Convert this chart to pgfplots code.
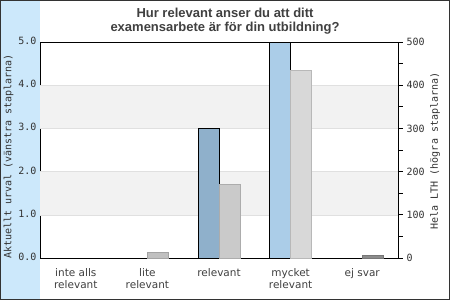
\documentclass[border=0pt]{standalone}
\usepackage{fontspec}
\usepackage{pgfplots}
\pgfplotsset{compat=1.18}
\setmainfont{DejaVu Sans}
\newfontfamily\titlefont{Liberation Sans}
\newfontfamily\monofont{DejaVu Sans Mono}
\definecolor{bandblue}{HTML}{CCE8FB}
\definecolor{bandgray}{HTML}{F2F2F2}
\definecolor{gridgray}{HTML}{E0E0E0}
\definecolor{titlegray}{HTML}{404040}
\definecolor{labelgray}{HTML}{333333}
\definecolor{relblue}{HTML}{8FB0CB}
\definecolor{myckblue}{HTML}{ABCDE8}
\definecolor{gLite}{HTML}{C0C0C0}
\definecolor{gRel}{HTML}{CACACA}
\definecolor{gMyck}{HTML}{D8D8D8}
\definecolor{gEj}{HTML}{8C8C8C}
\begin{document}
\begin{tikzpicture}[x=1pt,y=1pt]
\fill[white] (0,0) rectangle (450,300);
\fill[bandblue] (1,1) rectangle (40,299);
\begin{axis}[
  at={(40pt,42pt)}, anchor=south west, scale only axis, width=358pt, height=216pt,
  xmin=-0.5, xmax=4.5, ymin=0, ymax=5,
  axis line style={black, line width=0.8pt},
  xtick={0,1,2,3,4},
  xticklabels={inte alls\\relevant, lite\\relevant, relevant, mycket\\relevant, ej svar},
  xticklabel style={align=center, anchor=north, font=\fontsize{10.5}{12}\selectfont, text=titlegray},
  xticklabel shift=7pt,
  typeset ticklabels with strut,
  major x tick style={draw=none},
  ytick={0,1,2,3,4,5},
  major y tick style={draw=none},
  yticklabel style={font=\monofont\fontsize{10}{12}\selectfont, text=labelgray,
    /pgf/number format/fixed, /pgf/number format/fixed zerofill, /pgf/number format/precision=1},
  /pgf/number format/assume math mode=true,
]
\fill[bandgray] (axis cs:-0.5,1) rectangle (axis cs:4.5,2);
\fill[bandgray] (axis cs:-0.5,3) rectangle (axis cs:4.5,4);
\draw[gridgray] (axis cs:-0.5,1) -- (axis cs:4.5,1);
\draw[gridgray] (axis cs:-0.5,2) -- (axis cs:4.5,2);
\draw[gridgray] (axis cs:-0.5,3) -- (axis cs:4.5,3);
\draw[gridgray] (axis cs:-0.5,4) -- (axis cs:4.5,4);
\addplot[ybar, bar width=21pt, bar shift=-10.5pt, fill=none, draw=none] coordinates {(0,0) (1,0) (4,0)};
\addplot[ybar, bar width=21pt, bar shift=-10.5pt, fill=relblue, draw=black, line width=0.8pt] coordinates {(2,3)};
\addplot[ybar, bar width=21pt, bar shift=-10.5pt, fill=myckblue, draw=black, line width=0.8pt] coordinates {(3,5)};
\end{axis}
\begin{axis}[
  at={(40pt,42pt)}, anchor=south west, scale only axis, width=358pt, height=216pt,
  xmin=-0.5, xmax=4.5, ymin=0, ymax=500,
  axis x line=none, axis y line*=right,
  axis line style={black, line width=0.8pt},
  ytick={0,100,200,300,400,500}, minor ytick={50,150,250,350,450},
  tick align=outside, major tick length=5pt, minor tick length=5pt,
  tick style={black, line width=0.7pt},
  yticklabel style={font=\monofont\fontsize{10}{12}\selectfont, text=labelgray},
  /pgf/number format/assume math mode=true,
]
\addplot[ybar, bar width=21pt, bar shift=10.5pt, fill=none, draw=none] coordinates {(0,0)};
\addplot[ybar, bar width=21pt, bar shift=10.5pt, fill=gLite, draw=gLite!85!black, line width=0.6pt] coordinates {(1,14)};
\addplot[ybar, bar width=21pt, bar shift=10.5pt, fill=gRel, draw=gRel!85!black, line width=0.6pt] coordinates {(2,171)};
\addplot[ybar, bar width=21pt, bar shift=10.5pt, fill=gMyck, draw=gMyck!85!black, line width=0.6pt] coordinates {(3,434)};
\addplot[ybar, bar width=21pt, bar shift=10.5pt, fill=gEj, draw=gEj!85!black, line width=0.6pt] coordinates {(4,6)};
\end{axis}
\node[align=center, font=\titlefont\bfseries\fontsize{13}{14.5}\selectfont, text=titlegray] at (225,279) {Hur relevant anser du att ditt\\examensarbete är för din utbildning?};
\node[rotate=90, font=\monofont\fontsize{10}{12}\selectfont, text=labelgray] at (8.5,143.5) {Aktuellt urval (vänstra staplarna)};
\node[rotate=90, font=\monofont\fontsize{10}{12}\selectfont, text=labelgray] at (435,149) {Hela LTH (högra staplarna)};
\draw[black!80, line width=1pt] (0.5,0.5) rectangle (449.5,299.5);
\pgfresetboundingbox
\path[use as bounding box] (0,0) rectangle (450,300);
\end{tikzpicture}
\end{document}
